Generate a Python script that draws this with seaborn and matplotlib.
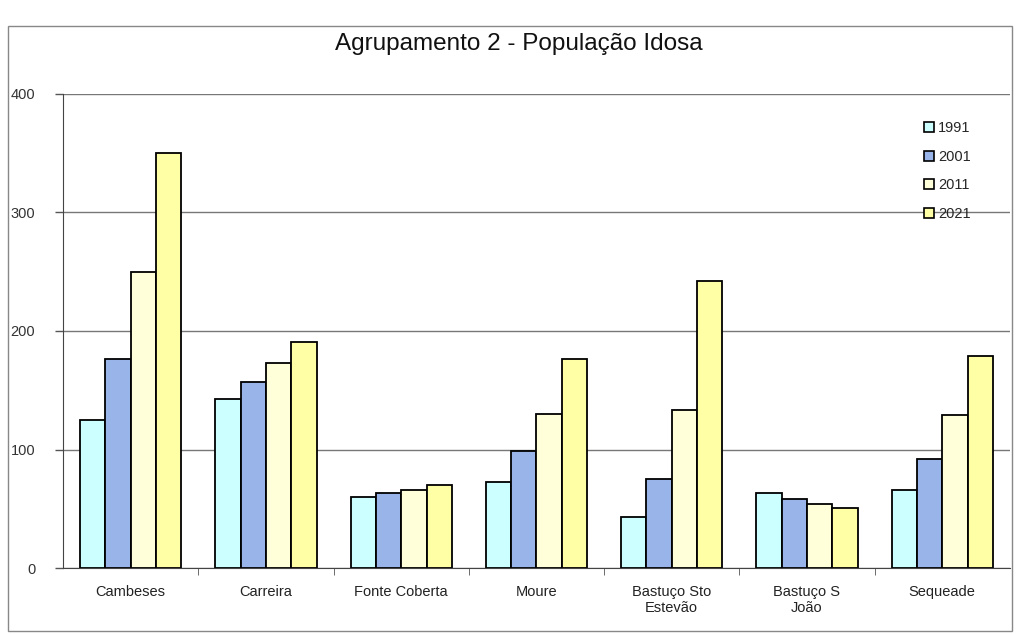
import matplotlib
matplotlib.use("Agg")
import matplotlib.pyplot as plt
import seaborn as sns
import pandas as pd
from matplotlib.patches import Rectangle, Patch

categories = ["Cambeses", "Carreira", "Fonte Coberta", "Moure",
              "Bastuço Sto\nEstevão", "Bastuço S\nJoão", "Sequeade"]
years = ["1991", "2001", "2011", "2021"]
v1991 = [125, 143, 60, 73, 43, 63, 66]
v2001 = [176, 157, 63, 99, 75, 58, 92]
v2011 = [250, 173, 66, 130, 133, 54, 129]
v2021 = [350, 191, 70, 176, 242, 51, 179]
yticks = [0, 100, 200, 300, 400]
colors = ["#CCFFFF", "#99B4E8", "#FFFFDA", "#FFFFA6"]

rows = []
for yr, vals in zip(years, [v1991, v2001, v2011, v2021]):
    for c, v in zip(categories, vals):
        rows.append({"Local": c, "Ano": yr, "Valor": v})
df = pd.DataFrame(rows)

sns.set_style("white")
plt.rcParams["font.family"] = ["Liberation Sans", "DejaVu Sans"]

fig = plt.figure(figsize=(10.18, 6.34), dpi=100)
ax = fig.add_axes([0.062, 0.104, 0.93, 0.748])

sns.barplot(data=df, x="Local", y="Valor", hue="Ano", order=categories,
            hue_order=years, palette=colors, saturation=1, width=0.75, gap=0,
            edgecolor="black", linewidth=1.3, ax=ax, legend=False)

ax.set_ylim(0, 400)
ax.set_xlim(-0.5, len(categories) - 0.5)
ax.set_yticks(yticks)
ax.set_yticklabels([str(t) for t in yticks], fontsize=10.5, color="#333333")
ax.yaxis.grid(True, color="#777777", linewidth=1)
ax.set_axisbelow(True)
ax.set_xlabel("")
ax.set_ylabel("")
ax.tick_params(axis="x", length=0, labelsize=10.5, labelcolor="#222222", pad=12)
ax.tick_params(axis="y", length=6, width=1, color="#555555", left=True, pad=14)
ax.set_xticks([i - 0.5 for i in range(1, len(categories))], minor=True)
ax.tick_params(axis="x", which="minor", length=5, color="#555555", bottom=True)
for s in ["top", "right"]:
    ax.spines[s].set_visible(False)
ax.spines["left"].set_color("#444444")
ax.spines["bottom"].set_color("#444444")

handles = [Patch(facecolor=c, edgecolor="black", linewidth=1.2) for c in colors]
leg = ax.legend(handles, years, loc="upper left", bbox_to_anchor=(0.895, 0.97),
                frameon=False, fontsize=10.5, handlelength=0.7, handleheight=0.7,
                handletextpad=0.3, labelspacing=1.0)

fig.text(0.51, 0.93, "Agrupamento 2 - População Idosa", ha="center", va="center",
         fontsize=17.5, color="#111111")

fig.patches.append(Rectangle((0.008, 0.004), 0.986, 0.955, transform=fig.transFigure,
                             fill=False, edgecolor="#888888", linewidth=1))

fig.savefig("out.png", dpi=100)
